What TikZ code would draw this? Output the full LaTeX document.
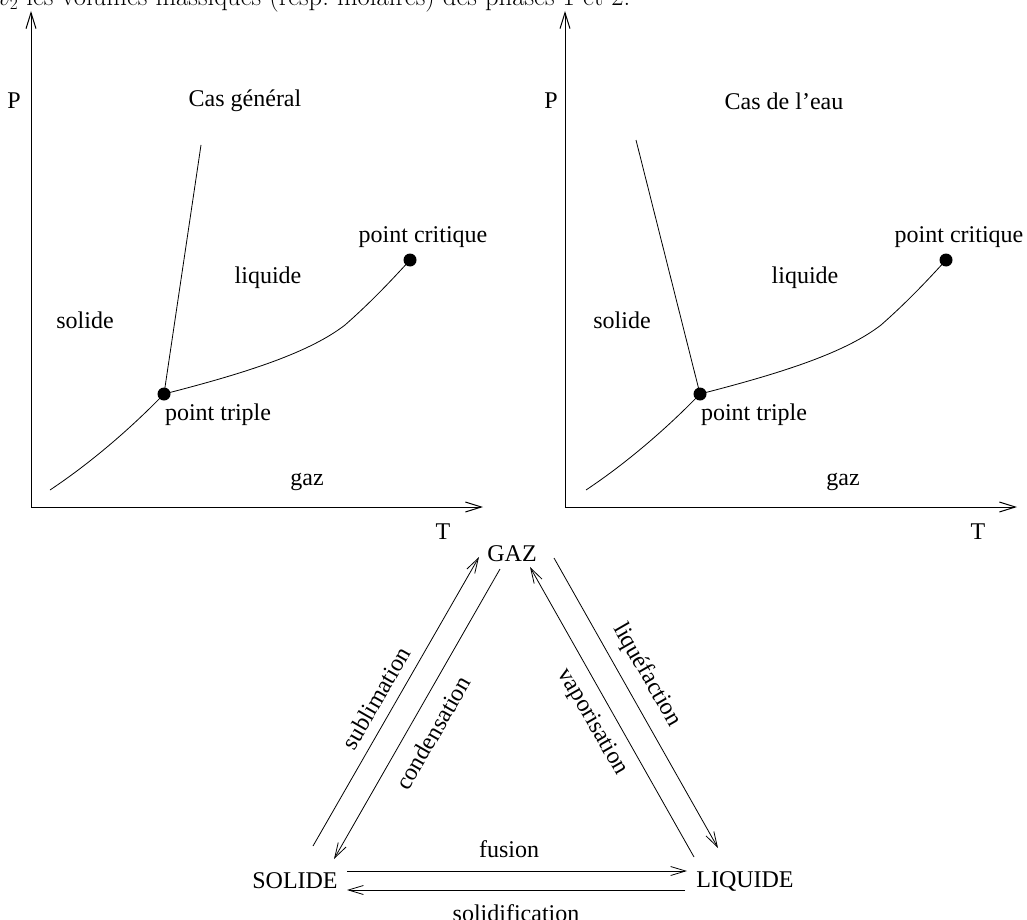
\documentclass[tikz,border=0pt]{standalone}
\usepackage{fontspec}
\setmainfont{Liberation Serif}
\newfontfamily\cmfont{Latin Modern Roman}
\usetikzlibrary{arrows.meta}
\tikzset{
  lbl/.style={font=\fontsize{24}{28}\selectfont, inner sep=0pt},
  axis/.style={line width=1pt, -{Straight Barb[length=16pt,width=10pt]}},
  curve/.style={line width=0.8pt},
  tr/.style={line width=0.8pt, -{Straight Barb[length=15pt,width=9pt]}},
  dot/.style={circle, fill=black, inner sep=0pt, minimum size=13pt},
}
\begin{document}
\begin{tikzpicture}[x=1pt,y=-1pt]
\useasboundingbox (0,0) rectangle (1027,920);
\clip (0,0) rectangle (1027,920);
\fill[white] (0,0) rectangle (1027,920);

% cropped top line
\node[anchor=base west, inner sep=0pt, font=\cmfont\fontsize{26.7}{30}\selectfont] (top) at (-2,6) {$v_2$ les volumes massiques (resp.\ molaires) des phases 1 et 2.};

% ===== left diagram =====
\coordinate (O1) at (31,507);
\coordinate (Y1) at (31,11);
\coordinate (X1) at (483,507);
\draw[axis] (O1) -- (Y1);
\draw[axis] (O1) -- (X1);
\node[dot] (TP1) at (164,394) {};
\node[dot] (CP1) at (410,260) {};
\coordinate (SL1) at (201,145);
\coordinate (SV1) at (50,490);
\draw[curve] (TP1.center) -- (SL1);
\draw[curve] (SV1) .. controls (95,460) and (135,424) .. (TP1.center);
\draw[curve] (TP1.center) .. controls (250,372) and (310,352) .. (345,325) .. controls (370,303) and (390,282) .. (CP1.center);
\node[lbl] (P1) at (14,101) {P};
\node[lbl] (title1) at (245,101) {Cas général};
\node[lbl] (sol1) at (85,320) {solide};
\node[lbl] (liq1) at (268,278) {liquide};
\node[lbl] (pc1) at (423,237) {point critique};
\node[lbl] (pt1) at (218,415) {point triple};
\node[lbl] (gaz1) at (307,482) {gaz};
\node[lbl] (T1) at (443,532) {T};

% ===== right diagram =====
\coordinate (O2) at (565,507);
\coordinate (Y2) at (565,11);
\coordinate (X2) at (1017,507);
\draw[axis] (O2) -- (Y2);
\draw[axis] (O2) -- (X2);
\node[dot] (TP2) at (700,394) {};
\node[dot] (CP2) at (946,260) {};
\coordinate (SL2) at (636,140);
\coordinate (SV2) at (586,490);
\draw[curve] (TP2.center) -- (SL2);
\draw[curve] (SV2) .. controls (631,460) and (671,424) .. (TP2.center);
\draw[curve] (TP2.center) .. controls (786,372) and (846,352) .. (881,325) .. controls (906,303) and (926,282) .. (CP2.center);
\node[lbl] (P2) at (551,101) {P};
\node[lbl] (title2) at (784,101) {Cas de l'eau};
\node[lbl] (sol2) at (622,320) {solide};
\node[lbl] (liq2) at (805,278) {liquide};
\node[lbl] (pc2) at (959,237) {point critique};
\node[lbl] (pt2) at (754,415) {point triple};
\node[lbl] (gaz2) at (843,482) {gaz};
\node[lbl] (T2) at (978,532) {T};

% ===== triangle =====
\node[lbl] (GAZ) at (512,554) {GAZ};
\node[lbl] (SOLIDE) at (295,881) {SOLIDE};
\node[lbl] (LIQUIDE) at (745,881) {LIQUIDE};

\coordinate (sub0) at (313,846); \coordinate (sub1) at (479,557);
\coordinate (con0) at (500,569); \coordinate (con1) at (334,859);
\coordinate (vap0) at (694,857); \coordinate (vap1) at (530,567);
\coordinate (liq0) at (554,558); \coordinate (liqf1) at (718,848);
\coordinate (fus0) at (347,871); \coordinate (fus1) at (687,871);
\coordinate (sol0) at (685,890); \coordinate (sol1) at (347,890);

\draw[tr] (sub0) -- (sub1);
\draw[tr] (con0) -- (con1);
\draw[tr] (vap0) -- (vap1);
\draw[tr] (liq0) -- (liqf1);
\draw[tr] (fus0) -- (fus1);
\draw[tr] (sol0) -- (sol1);

\node[lbl, rotate=60] (lsub) at (376,698) {sublimation};
\node[lbl, rotate=60] (lcon) at (433,733) {condensation};
\node[lbl, rotate=-60] (lvap) at (592,722) {vaporisation};
\node[lbl, rotate=-60] (lliq) at (647,675) {liquéfaction};
\node[lbl] (lfus) at (509,849) {fusion};
\node[lbl] (lsol) at (516,913) {solidification};
\end{tikzpicture}
\end{document}
